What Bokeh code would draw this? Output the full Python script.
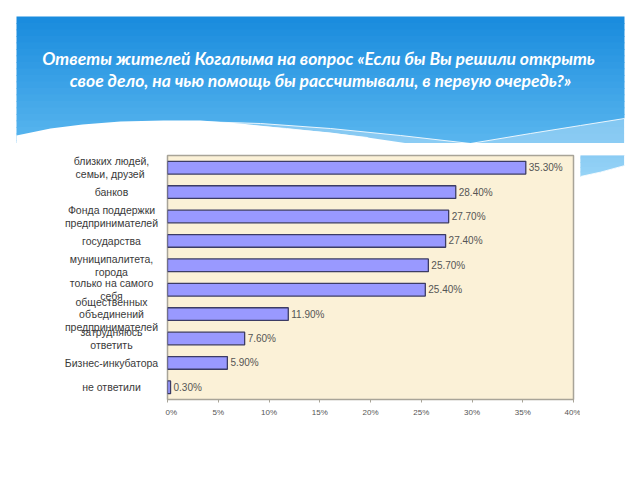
from bokeh.plotting import figure
from bokeh.layouts import column, row
from bokeh.models import (ColumnDataSource, FactorRange, Range1d, LabelSet,
                          FixedTicker, PrintfTickFormatter)
from bokeh.core.properties import value
from bokeh.embed import file_html
from bokeh.resources import INLINE

# ---------------- data ----------------
categories = [
    "близких людей,\nсемьи,  друзей",
    "банков",
    "Фонда поддержки\nпредпринимателей",
    "государства",
    "муниципалитета,\nгорода",
    "только на самого\nсебя",
    "общественных\nобъединений\nпредпринимателей",
    "затрудняюсь\nответить",
    "Бизнес-инкубатора",
    "не ответили",
]
values = [35.3, 28.4, 27.7, 27.4, 25.7, 25.4, 11.9, 7.6, 5.9, 0.3]
x_ticks = [0, 5, 10, 15, 20, 25, 30, 35, 40]
title_lines = [
    "Ответы жителей Когалыма на вопрос  «Если бы Вы решили открыть",
    "свое дело, на чью помощь бы рассчитывали, в первую очередь?»",
]

FONT = value("Liberation Sans")
value_labels = [f"{v:.2f}%" for v in values]
source = ColumnDataSource(dict(cat=categories, val=values, vlab=value_labels))

H = 143          # height of the header strip
LW = 165         # width of the category-label column
CW = 415         # width of the chart figure
RW = 640 - LW - CW


def plain(fig):
    fig.title.visible = False
    fig.outline_line_color = None
    fig.xgrid.visible = False
    fig.ygrid.visible = False
    fig.background_fill_color = "white"
    fig.border_fill_color = "white"


def decorate(fig):
    """Slide background: blue gradient header with a white wave (canvas pixels)."""
    top_c = (26, 140, 222)
    bot_c = (104, 192, 243)
    y0, y1, n = 16, 172, 24
    bl, br, bt, bb, bc = [], [], [], [], []
    for i in range(n):
        t = i / (n - 1)
        bl.append(16)
        br.append(624)
        bt.append(y0 + (y1 - y0) * i / n)
        bb.append(y0 + (y1 - y0) * (i + 1) / n + 0.7)
        bc.append("#%02x%02x%02x" % tuple(int(a + (b - a) * t) for a, b in zip(top_c, bot_c)))
    fig.quad(left=bl, right=br, top=bt, bottom=bb, fill_color=bc, line_color=None)
    # lighter streak under a thin white line
    fig.patch(x=[196, 260, 330, 400, 470, 530, 580, 624, 624, 600, 580, 408, 367, 286],
              y=[121, 123, 128, 135, 143, 133, 125, 118, 157, 166, 172, 172, 137, 128],
              fill_color="white", fill_alpha=0.3, line_color="white", line_alpha=0.85,
              line_width=1)
    # white wave
    fig.patch(x=[16, 50, 82, 120, 163, 200, 240, 286, 330, 367, 408, 420, 420, 16],
              y=[135, 128, 124, 121, 120, 120, 123, 128, 132, 137, 143, 146, 150, 150],
              fill_color="white", line_color=None)
    fig.patch(x=[580, 600, 624, 640, 640, 580],
              y=[172, 166, 157, 157, 480, 480],
              fill_color="white", line_color=None)


# ---------------- header ----------------
h = figure(width=640, height=H, x_range=Range1d(0, 640), y_range=Range1d(H, 0),
           output_backend="svg", toolbar_location=None, min_border=0,
           x_axis_location=None, y_axis_location=None)
plain(h)
decorate(h)
h.text(x=[320] * len(title_lines), y=[58 + 21.5 * i for i in range(len(title_lines))],
       text=title_lines, text_align="center", text_baseline="middle",
       text_color="white", text_font=value("Lato"), text_font_style="bold italic",
       text_font_size="17.5px")

# ---------------- chart ----------------
p = figure(width=CW, height=480 - H,
           y_range=FactorRange(factors=list(reversed(categories))),
           x_range=Range1d(0, 40),
           output_backend="svg", toolbar_location=None,
           y_axis_location=None,
           min_border_left=2, min_border_right=7,
           min_border_top=155 - H, min_border_bottom=81)
p.title.visible = False
p.background_fill_color = "#FBF1D7"
p.border_fill_color = "white"
p.outline_line_color = "#A8A498"
p.outline_line_width = 1.5
p.xgrid.visible = False
p.ygrid.visible = False

p.hbar(y="cat", right="val", left=0, height=0.52, source=source,
       fill_color="#9999FF", line_color="#3C3C64", line_width=1.3)

p.add_layout(LabelSet(x="val", y="cat", text="vlab", source=source, x_offset=3,
                      text_baseline="middle", text_font=FONT,
                      text_font_size="10px", text_color="#555555"))

ax = p.xaxis[0]
ax.ticker = FixedTicker(ticks=x_ticks)
ax.formatter = PrintfTickFormatter(format="%d%%")
ax.major_label_text_font = "Liberation Sans"
ax.major_label_text_font_size = "8px"
ax.major_label_text_color = "#555555"
ax.axis_line_color = "#A8A498"
ax.major_tick_line_color = "#A8A498"
ax.major_tick_in = 0
ax.major_tick_out = 3
ax.minor_tick_line_color = None
ax.major_label_standoff = 5

# ---------------- category labels (left column) ----------------
lf = figure(width=LW, height=480 - H, x_range=Range1d(0, LW),
            y_range=p.y_range, output_backend="svg", toolbar_location=None,
            x_axis_location=None, y_axis_location=None,
            min_border_left=0, min_border_right=0,
            min_border_top=155 - H, min_border_bottom=81)
plain(lf)
lf.text(x=[111] * len(categories), y=categories, text=categories,
        text_align="center", text_baseline="middle", text_font=FONT,
        text_font_size="10.5px", text_color="#3a3a3a", text_line_height=1.05)

# ---------------- right strip (rest of the header wave) ----------------
rf = figure(width=RW, height=480 - H, x_range=Range1d(640 - RW, 640),
            y_range=Range1d(480, H), output_backend="svg", toolbar_location=None,
            x_axis_location=None, y_axis_location=None, min_border=0)
plain(rf)
decorate(rf)

layout = column(h, row(lf, p, rf))
open("out.html", "w").write(file_html(layout, INLINE))
